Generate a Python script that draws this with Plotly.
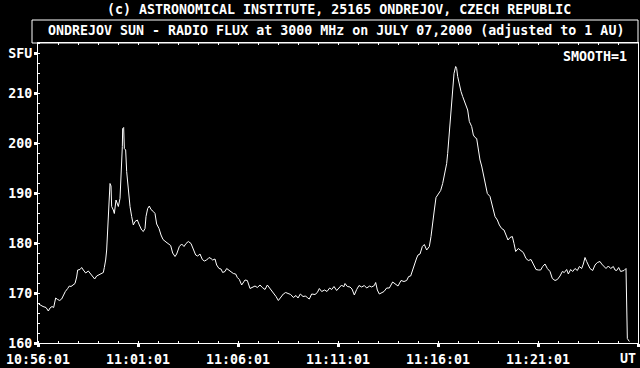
import datetime as dt
import plotly.graph_objects as go

# ---- data -------------------------------------------------------------
START = "2000-07-07 10:56:01"
END = "2000-07-07 11:26:01"
# seconds after 10:56:01 UT
T_SEC = [2, 9, 15, 24, 31, 36, 42, 47, 53, 59, 65, 71, 76, 82, 89, 94, 99, 105, 111, 116,
         119, 126, 131, 136, 143, 151, 157, 164, 170, 176, 182, 189, 196, 199, 203, 206, 208, 211, 216, 219,
         221, 226, 229, 234, 238, 241, 246, 249, 253, 254, 257, 259, 263, 266, 271, 276, 281, 286, 291, 298,
         304, 311, 316, 321, 324, 329, 334, 339, 346, 351, 356, 363, 369, 375, 384, 391, 398, 404, 411, 416,
         424, 431, 438, 444, 451, 459, 466, 473, 479, 486, 493, 499, 506, 513, 519, 524, 531, 536, 543, 549,
         554, 561, 566, 573, 579, 586, 593, 598, 604, 611, 621, 628, 636, 644, 651, 658, 666, 673, 681, 688,
         696, 706, 714, 721, 729, 736, 743, 751, 758, 766, 774, 780, 787, 795, 803, 809, 814, 821, 831, 838,
         844, 851, 860, 867, 875, 881, 888, 896, 903, 911, 917, 921, 928, 936, 942, 949, 956, 963, 971, 979,
         986, 995, 1001, 1009, 1013, 1018, 1024, 1031, 1038, 1046, 1054, 1064, 1071, 1080, 1089, 1098, 1106, 1112, 1118, 1124,
         1130, 1136, 1140, 1146, 1153, 1159, 1166, 1174, 1179, 1184, 1189, 1194, 1201, 1208, 1214, 1221, 1226, 1229, 1233, 1236,
         1239, 1243, 1248, 1253, 1256, 1259, 1264, 1269, 1274, 1279, 1284, 1289, 1294, 1301, 1306, 1311, 1316, 1321, 1326, 1331,
         1338, 1344, 1348, 1356, 1361, 1366, 1371, 1378, 1384, 1391, 1398, 1404, 1410, 1416, 1423, 1428, 1433, 1441, 1448, 1456,
         1464, 1471, 1479, 1486, 1494, 1501, 1508, 1514, 1521, 1528, 1536, 1543, 1551, 1558, 1566, 1573, 1579, 1586, 1591, 1598,
         1604, 1611, 1618, 1624, 1631, 1636, 1641, 1646, 1651, 1656, 1664, 1671, 1678, 1686, 1691, 1698, 1704, 1711, 1718, 1726,
         1731, 1736, 1742, 1748, 1754, 1758, 1764, 1766, 1768, 1774]
FLUX_SFU = [167.8, 167.5, 167.3, 167.1, 166.4, 167.0, 167.3, 167.1, 169.0, 168.7, 168.5, 168.8, 169.6, 170.3, 170.9, 171.4, 171.3, 171.7, 171.9, 173.2,
            174.6, 174.7, 175.1, 174.6, 174.0, 174.4, 173.9, 173.4, 172.8, 173.4, 173.6, 173.9, 174.1, 175.1, 176.6, 178.6, 181.9, 186.6, 191.9, 191.4,
            187.3, 186.6, 185.9, 188.6, 187.6, 187.3, 188.9, 192.6, 199.3, 202.9, 203.1, 198.9, 198.6, 194.3, 189.9, 187.3, 185.3, 183.6, 184.3, 184.6,
            183.6, 182.6, 182.3, 182.9, 185.3, 186.9, 187.4, 186.7, 186.3, 185.9, 183.8, 182.9, 181.6, 180.7, 180.2, 179.9, 179.5, 178.0, 177.3, 177.8,
            179.3, 179.8, 179.3, 179.9, 180.3, 179.9, 178.8, 177.6, 177.4, 177.8, 176.7, 176.4, 176.6, 177.1, 176.9, 176.6, 176.8, 175.6, 174.9, 174.8,
            174.1, 174.3, 174.9, 174.6, 174.3, 173.9, 173.8, 173.1, 172.7, 171.6, 172.6, 172.5, 170.9, 171.1, 171.4, 171.1, 171.6, 171.1, 170.7, 171.6,
            170.9, 170.2, 169.3, 168.5, 169.2, 169.8, 170.1, 169.8, 169.7, 169.1, 169.5, 169.0, 169.8, 169.3, 169.4, 169.0, 168.8, 169.8, 169.7, 170.1,
            170.9, 170.3, 170.6, 170.3, 171.0, 170.7, 171.3, 170.5, 171.1, 171.6, 171.2, 171.9, 171.3, 171.2, 170.8, 169.6, 170.7, 171.5, 171.2, 171.5,
            171.0, 171.4, 171.2, 171.5, 172.1, 170.6, 169.8, 170.0, 170.3, 171.0, 171.0, 172.2, 171.9, 171.4, 172.5, 172.3, 172.5, 173.3, 173.4, 174.7,
            175.8, 177.0, 177.6, 177.8, 179.3, 179.7, 178.6, 179.3, 181.3, 184.6, 186.6, 189.1, 189.9, 190.5, 191.9, 193.9, 195.9, 197.9, 201.3, 203.9,
            207.9, 211.3, 213.9, 215.3, 214.9, 213.3, 211.6, 210.3, 209.3, 208.3, 207.3, 206.6, 204.3, 203.3, 201.6, 201.1, 200.9, 198.7, 196.6, 195.4,
            193.3, 191.6, 189.9, 189.3, 187.9, 186.9, 185.3, 184.6, 183.6, 182.9, 182.6, 181.6, 180.6, 181.1, 181.3, 179.9, 178.3, 178.9, 178.6, 178.1,
            176.9, 176.5, 176.7, 175.6, 174.7, 174.6, 174.6, 175.3, 175.8, 174.9, 174.3, 172.9, 172.5, 172.7, 173.4, 174.3, 174.1, 174.7, 173.8, 174.7,
            174.3, 174.9, 174.5, 175.3, 174.9, 175.8, 177.1, 176.3, 175.4, 174.9, 174.5, 175.6, 176.1, 176.3, 175.8, 175.4, 174.9, 175.4, 174.9, 175.3,
            174.6, 174.5, 175.1, 174.3, 174.5, 174.5, 174.9, 167.9, 160.9, 160.3]

X_TICK_LABELS = ["10:56:01", "11:01:01", "11:06:01", "11:11:01", "11:16:01", "11:21:01", ""]
X_UNIT_LABEL = "UT"
Y_TICK_VALUES = [160, 170, 180, 190, 200, 210, 218]
Y_TICK_LABELS = ["160", "170", "180", "190", "200", "210", "SFU"]

TOP_TEXT = "(c) ASTRONOMICAL INSTITUTE, 25165 ONDREJOV, CZECH REPUBLIC"
BOX_TEXT = "ONDREJOV SUN - RADIO FLUX at 3000 MHz on JULY 07,2000 (adjusted to 1 AU)"
SMOOTH_TEXT = "SMOOTH=1"

# ---- figure -----------------------------------------------------------
t0 = dt.datetime.strptime(START, "%Y-%m-%d %H:%M:%S")
t1 = dt.datetime.strptime(END, "%Y-%m-%d %H:%M:%S")
times = [t0 + dt.timedelta(seconds=s) for s in T_SEC]
x_tickvals = [t0 + dt.timedelta(minutes=5 * i) for i in range(len(X_TICK_LABELS))]

FONT = dict(family="DejaVu Sans Mono", size=13.3, color="white", weight="bold")

W, H = 640, 368
L, R, T, B = 38, 2, 43, 25
PW, PH = W - L - R, H - T - B


def px(x):
    return (x - L) / PW


def py(y):
    return (H - B - y) / PH


fig = go.Figure()
fig.add_trace(go.Scatter(x=times, y=FLUX_SFU, mode="lines",
                         line=dict(color="white", width=1), hoverinfo="skip"))
fig.add_trace(go.Scatter(x=[], y=[], xaxis="x2", yaxis="y", hoverinfo="skip"))

fig.update_layout(
    width=W, height=H,
    margin=dict(l=L, r=R, t=T, b=B, pad=0, autoexpand=False),
    paper_bgcolor="black", plot_bgcolor="black",
    showlegend=False,
    font=FONT,
    xaxis=dict(
        type="date", range=[t0, t1], automargin=False,
        tickmode="array", tickvals=x_tickvals, ticktext=X_TICK_LABELS,
        ticks="outside", ticklen=3, tickwidth=3, tickcolor="white",
        showline=True, linecolor="white", linewidth=1, mirror=True,
        showgrid=False, zeroline=False, tickfont=FONT, ticklabelstandoff=1,
        minor=dict(ticks="inside", ticklen=2, tickwidth=1, tickcolor="white",
                   dtick=60000, tick0=t0, showgrid=False),
    ),
    xaxis2=dict(
        type="date", range=[t0, t1], overlaying="x", side="top", anchor="y",
        automargin=False,
        tickmode="linear", dtick=60000, tick0=t0,
        ticks="inside", ticklen=2, tickwidth=1, tickcolor="white",
        showticklabels=False, showline=False, showgrid=False, zeroline=False,
    ),
    yaxis=dict(
        range=[160, 220], automargin=False,
        tickmode="array", tickvals=Y_TICK_VALUES, ticktext=Y_TICK_LABELS,
        ticks="outside", ticklen=3, tickwidth=3, tickcolor="white",
        showline=True, linecolor="white", linewidth=1, mirror=True,
        showgrid=False, zeroline=False, tickfont=FONT, ticklabelstandoff=-1,
        ticklabeloverflow="allow",
        minor=dict(ticks="inside", ticklen=2, tickwidth=1, tickcolor="white",
                   dtick=2, tick0=160, showgrid=False),
    ),
    shapes=[dict(type="rect", xref="paper", yref="paper",
                 x0=px(32), x1=px(638), y0=py(43), y1=py(20),
                 line=dict(color="white", width=1))],
    annotations=[
        dict(text=TOP_TEXT, xref="paper", yref="paper", x=px(339), y=py(9),
             xanchor="center", yanchor="middle", showarrow=False, font=FONT),
        dict(text=BOX_TEXT, xref="paper", yref="paper", x=px(46), y=py(31),
             xanchor="left", yanchor="middle", showarrow=False, font=FONT),
        dict(text=SMOOTH_TEXT, xref="paper", yref="paper", x=px(629), y=py(57),
             xanchor="right", yanchor="middle", showarrow=False, font=FONT),
        dict(text=X_UNIT_LABEL, xref="paper", yref="paper", x=px(638), y=py(358),
             xanchor="right", yanchor="middle", showarrow=False, font=FONT),
    ],
)

fig.write_html("out.html")
